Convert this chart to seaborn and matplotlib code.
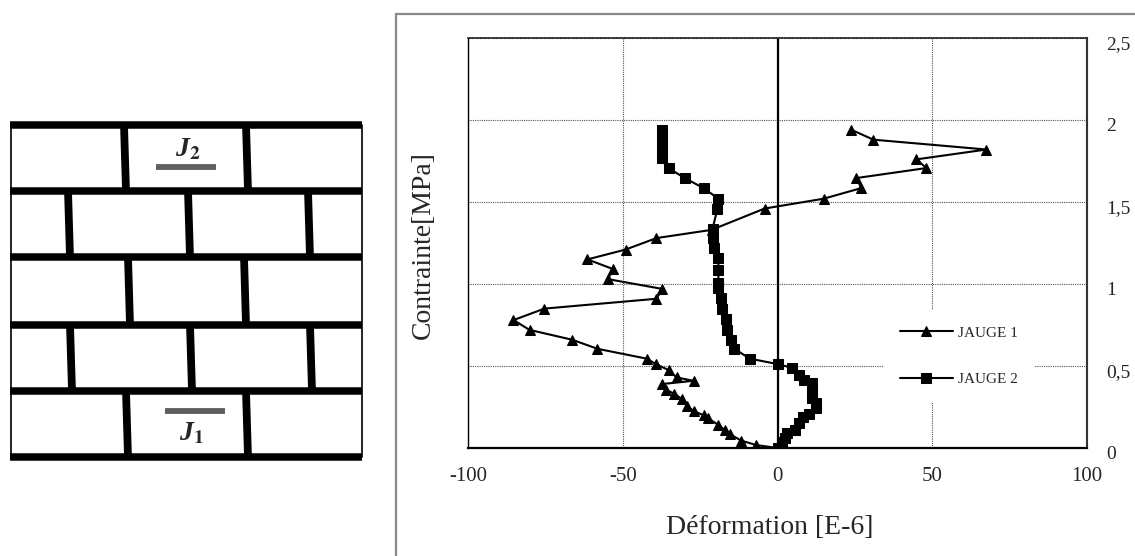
import matplotlib
matplotlib.use('Agg')
import matplotlib.pyplot as plt
from matplotlib.patches import Rectangle
from matplotlib.transforms import ScaledTranslation
import pandas as pd
import seaborn as sns

# values
jauge1_def = [0, -6.9, -11.7, -15.5, -17.1, -19.1, -22.3, -23.9, -27.1, -29.1, -31, -33.3, -35.9, -37.2,
              -27.1, -32.6, -35.2, -39.1, -42.3, -58.2, -66.3, -80.1, -85.3, -75.3, -39.1, -37.2, -54.9,
              -53, -61.4, -49.1, -39.1, -21.3, -4.2, 14.9, 27.1, 25.5, 48.1, 44.9, 67.5, 31, 23.9]
jauge1_con = [0, .018, .045, .085, .11, .14, .18, .2, .225, .255, .3, .33, .355, .39,
              .41, .43, .475, .51, .545, .605, .66, .72, .78, .85, .91, .97, 1.03,
              1.09, 1.15, 1.21, 1.28, 1.33, 1.46, 1.52, 1.585, 1.646, 1.707, 1.76, 1.82, 1.88, 1.94]
jauge2_def = [0, 1.3, 2.3, 3.2, 5.5, 7.1, 8.1, 10.3, 12.3, 12.3, 11, 11, 11, 11, 8.7, 7.1, 4.8, 0, -9,
              -13.9, -14.9, -16.2, -16.8, -17.8, -18.1, -19.1, -19.1, -19.1, -19.1, -20.4, -21, -21,
              -19.4, -19.1, -23.9, -30, -35.2, -37.2, -37.2, -37.2, -37.2]
jauge2_con = [0, .037, .06, .09, .11, .15, .19, .21, .245, .275, .305, .335, .366, .396, .415, .445, .488, .512, .545,
              .605, .66, .72, .787, .85, .915, .976, 1.006, 1.085, 1.158, 1.22, 1.28, 1.335,
              1.46, 1.52, 1.585, 1.646, 1.707, 1.768, 1.817, 1.878, 1.94]
x_ticks = [-100, -50, 0, 50, 100]
y_ticks = [0, 0.5, 1, 1.5, 2, 2.5]
y_labels = ['0', '0,5', '1', '1,5', '2', '2,5']

# wall sketch, in pixels of the picture
wall_joints = [125, 191, 257, 325, 391, 457]
wall_studs = [
    [(124, 126), (246, 248)],
    [(68, 70), (188, 190), (308, 310)],
    [(128, 130), (244, 246)],
    [(70, 72), (190, 192), (310, 312)],
    [(126, 128), (246, 248)],
]

W, H = 1135, 556
sns.set_theme(style='white')
plt.rcParams['font.family'] = ['Liberation Serif', 'DejaVu Serif']
plt.rcParams['axes.unicode_minus'] = False

fig = plt.figure(figsize=(W / 100, H / 100), dpi=100)

# outer frame of the chart
fig.add_artist(Rectangle((396 / W, -0.01), 0.7, 1 - 14 / H + 0.01, transform=fig.transFigure,
                         fc='white', ec='#8a8a8a', lw=1.6, zorder=-1))

# wall
sk = fig.add_axes([0, 0, 1, 1], facecolor='none')
sk.set_xlim(0, W)
sk.set_ylim(H, 0)
sk.axis('off')
for y in wall_joints:
    sk.plot([10, 362], [y, y], color='black', lw=5.4, solid_capstyle='butt')
for x in (10.5, 361.5):
    sk.plot([x, x], [125, 457], color='black', lw=1.2)
for i, row in enumerate(wall_studs):
    for x0, x1 in row:
        sk.plot([x0, x1], [wall_joints[i], wall_joints[i + 1]], color='black', lw=5.6, solid_capstyle='butt')
sk.plot([156, 216], [167, 167], color='#5f5f5f', lw=4.2, solid_capstyle='butt')
sk.plot([165, 225], [411, 411], color='#5f5f5f', lw=4.2, solid_capstyle='butt')
sk.text(188, 150, 'J$_{\\mathbf{2}}$', fontsize=20, fontweight='bold', style='italic', ha='center', va='center',
        math_fontfamily='stix')
sk.text(191, 434, 'J$_{\\mathbf{1}}$', fontsize=20, fontweight='bold', style='italic', ha='center', va='center',
        math_fontfamily='stix')

# chart
ax = fig.add_axes([468 / W, 1 - 448 / H, (1087 - 468) / W, (448 - 38) / H])
df = pd.concat([
    pd.DataFrame({'def': jauge1_def, 'con': jauge1_con, 'jauge': 'JAUGE 1'}),
    pd.DataFrame({'def': jauge2_def, 'con': jauge2_con, 'jauge': 'JAUGE 2'}),
])
sns.lineplot(data=df, x='def', y='con', hue='jauge', style='jauge', sort=False, estimator=None,
             palette=['black', 'black'], dashes=False, markers=['^', 's'], markersize=7.5,
             linewidth=1.5, markeredgecolor='black', ax=ax, zorder=3)

ax.set_xlim(-100, 100)
ax.set_ylim(0, 2.5)
ax.set_xticks(x_ticks)
ax.set_yticks(y_ticks)
ax.set_yticklabels(y_labels)
ax.grid(True, color='#555555', linestyle=(0, (1, 1)), linewidth=0.8)
ax.axvline(0, color='black', lw=1.6, zorder=2)
ax.yaxis.tick_right()
ax.tick_params(axis='y', length=0, labelsize=14, pad=14)
ax.tick_params(axis='x', length=0, labelsize=15, pad=14)
# the right hand labels sit a little under their grid lines
for lab in ax.get_yticklabels():
    lab.set_transform(lab.get_transform() + ScaledTranslation(0, -3 / 72, fig.dpi_scale_trans))
ax.spines['left'].set_color('black')
ax.spines['left'].set_linewidth(1)
ax.spines['bottom'].set_color('black')
ax.spines['bottom'].set_linewidth(1.6)
for s, w in (('top', 1.2), ('right', 1.5)):
    ax.spines[s].set_color('#333333')
    ax.spines[s].set_linewidth(w)
    ax.spines[s].set_linestyle((0, (1, 0.6)))

ax.set_xlabel('Déformation [E-6]', fontsize=20)
ax.xaxis.set_label_coords((770 - 468) / 619, -(515 - 448) / 410)
ax.set_ylabel('Contrainte[MPa]', fontsize=20)
ax.yaxis.set_label_position('left')
ax.yaxis.set_label_coords(-(468 - 436) / 619, (448 - 245) / 410)

handles, labels = ax.get_legend_handles_labels()
leg = ax.legend(handles, labels, loc='center left', bbox_to_anchor=((884 - 468) / 619, (448 - 356) / 410),
                frameon=True, framealpha=1, facecolor='white', edgecolor='none', fancybox=False,
                fontsize=11, handlelength=3.46, labelspacing=2.15, borderpad=1.05, handletextpad=0.35,
                borderaxespad=0)
leg.set_zorder(4)

fig.savefig('out.png', dpi=100)
